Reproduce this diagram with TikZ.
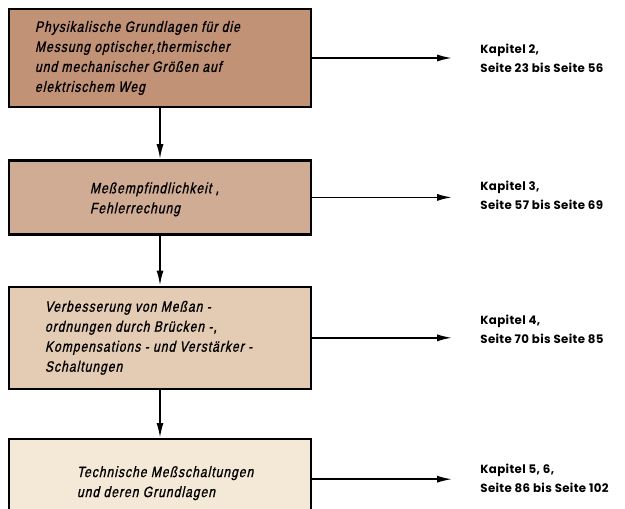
\documentclass[tikz,border=0pt]{standalone}
\usepackage{fontspec}
\usetikzlibrary{positioning}
\usetikzlibrary{arrows.meta}
\newfontfamily\techfont[FakeStretch=0.8,FakeSlant=0.22,FakeBold=1.2,LetterSpace=7]{Liberation Sans}
\newfontfamily\chapfont[LetterSpace=3]{Poppins}
\definecolor{brownA}{RGB}{194,146,118}
\definecolor{brownB}{RGB}{208,172,148}
\definecolor{brownC}{RGB}{228,204,180}
\definecolor{brownD}{RGB}{244,232,214}
\tikzset{
  stage/.style={draw, line width=2.4pt, minimum width=302pt, inner sep=0pt},
  techtext/.style={anchor=west, align=left, inner sep=0pt, font=\techfont\fontsize{15}{20}\selectfont},
  chaptext/.style={anchor=west, align=left, inner sep=0pt, font=\chapfont\bfseries\fontsize{11.8}{19}\selectfont},
  flow/.style={line width=1.8pt, -{Latex[length=15pt,width=7pt]}}
}

\begin{document}
\begin{tikzpicture}[x=1pt, y=-1pt, node distance=50pt]
  \useasboundingbox (0,0) rectangle (625,509);

  \node[stage, fill=brownA, minimum height=98pt] (b1) at (160,58) {};
  \node[stage, fill=brownB, minimum height=74pt, below=51pt of b1] (b2) {};
  \node[stage, fill=brownC, minimum height=102pt, below=50pt of b2] (b3) {};
  \node[stage, fill=brownD, minimum height=80pt, below=48pt of b3] (b4) {};

  \node[techtext] (t1) at ([xshift=27pt]b1.west) {Physikalische Grundlagen für die\\Messung optischer,thermischer\\und mechanischer Größen auf\\elektrischem Weg};
  \node[techtext] (t2) at ([xshift=82pt,yshift=-2pt]b2.west) {Meßempfindlichkeit ,\\Fehlerrechung};
  \node[techtext] (t3) at ([xshift=37pt]b3.west) {Verbesserung von Meßan -\\ordnungen durch Brücken -,\\Kompensations - und Verstärker -\\Schaltungen};
  \node[techtext] (t4) at ([xshift=69pt,yshift=-4pt]b4.west) {Technische Meßschaltungen\\und deren Grundlagen};

  \node[chaptext] (k1) at ([xshift=168pt]b1.east) {Kapitel 2,\\Seite 23 bis Seite 56};
  \node[chaptext] (k2) at ([xshift=168pt,yshift=2pt]b2.east) {Kapitel 3,\\Seite 57 bis Seite 69};
  \node[chaptext] (k3) at ([xshift=168pt,yshift=8pt]b3.east) {Kapitel 4,\\Seite 70 bis Seite 85};
  \node[chaptext] (k4) at ([xshift=168pt,yshift=1pt]b4.east) {Kapitel 5, 6,\\Seite 86 bis Seite 102};

  % Hauptpfad
  \draw[flow] (b1) -- (b2);
  \draw[flow] (b2) -- (b3);
  \draw[flow] (b3) -- (b4);

  % Verweise auf die Kapitel
  \foreach \i in {1,...,4}
    \draw[flow, shorten >=28pt] (b\i.east) -- (b\i.east -| k\i.west);
\end{tikzpicture}
\end{document}
